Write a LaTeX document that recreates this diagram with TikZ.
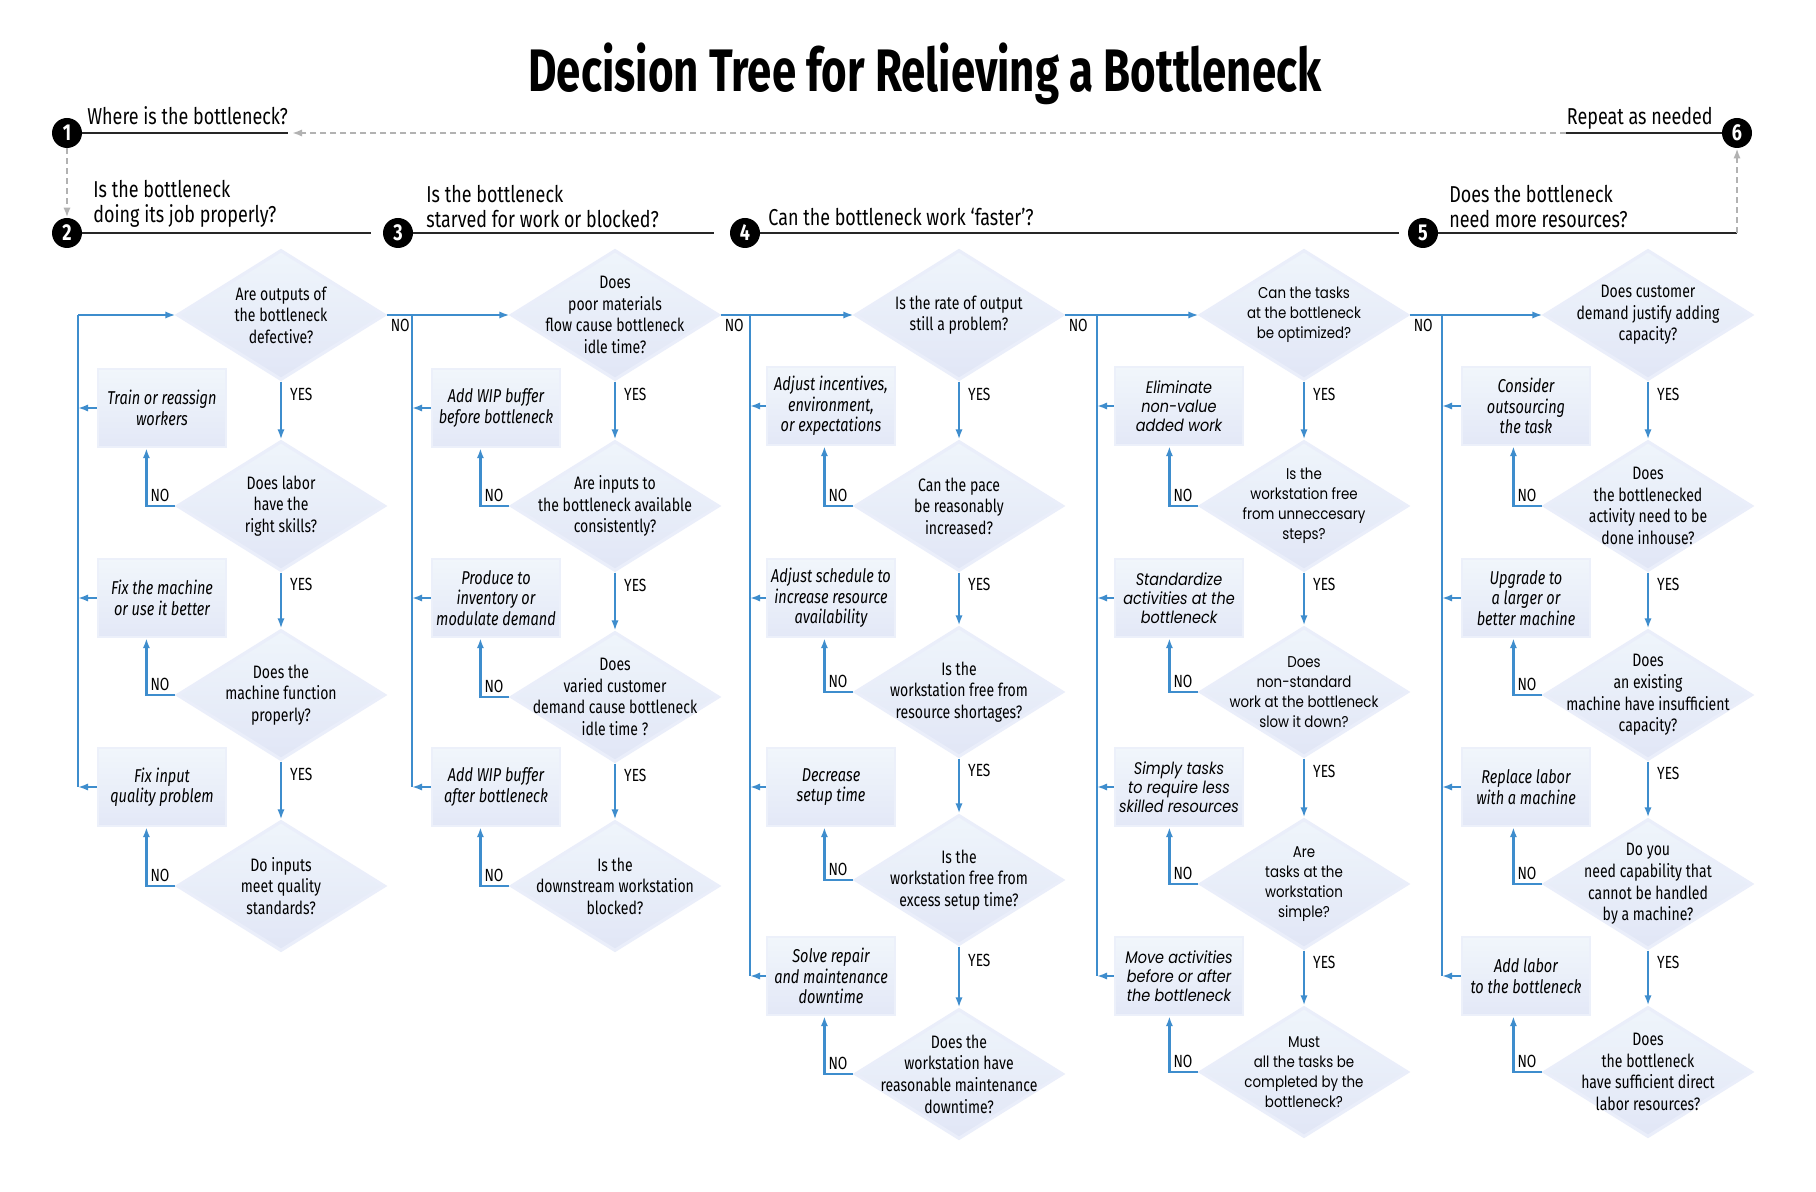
\documentclass[tikz,border=0pt]{standalone}
\usepackage{fontspec}
\setmainfont{Fira Sans}[FakeStretch=0.78]
\newfontfamily\titlefont{Fira Sans}[FakeStretch=0.73]
\newfontfamily\geofont{Poppins}[FakeStretch=0.86]
\usetikzlibrary{shapes.geometric,arrows.meta}

\definecolor{flowblue}{RGB}{62,141,205}
\definecolor{qtop}{RGB}{239,245,251}
\definecolor{qbot}{RGB}{225,230,246}
\definecolor{qedge}{RGB}{234,238,250}
\definecolor{atop}{RGB}{241,246,251}
\definecolor{abot}{RGB}{227,232,247}
\definecolor{aedge}{RGB}{236,240,250}
\definecolor{loopgray}{RGB}{178,178,178}

\begin{document}
\begin{tikzpicture}[x=0.5pt,y=-0.5pt]
  \tikzset{question/.style={diamond,minimum width=104pt,minimum height=65pt,inner sep=0pt,
      top color=qtop,bottom color=qbot,draw=qedge,line width=1.6pt}}
  \tikzset{qtext/.style={align=center,inner sep=0pt,font=\fontsize{9}{10.8}\selectfont}}
  \tikzset{action/.style={rectangle,minimum width=64pt,minimum height=39pt,inner sep=1pt,
      top color=atop,bottom color=abot,draw=aedge,line width=1.2pt,align=center,
      font=\itshape\fontsize{9.3}{10.2}\selectfont}}
  \tikzset{geoq/.style={font=\geofont\fontsize{7.8}{10}\selectfont}}
  \tikzset{geoa/.style={font=\geofont\itshape\fontsize{8.4}{9.6}\selectfont}}
  \tikzset{flow/.style={draw=flowblue,line width=1.2pt}}
  \tikzset{flowarrow/.style={flow,-{Latex[length=5pt,width=3.6pt]}}}
  \tikzset{yeslabel/.style={anchor=west,inner sep=0pt,xshift=4pt,font=\fontsize{8.8}{10}\selectfont}}
  \tikzset{nolabel/.style={inner sep=1.5pt,font=\fontsize{8.8}{10}\selectfont}}
  \tikzset{stepdot/.style={circle,fill=black,minimum size=15pt,inner sep=0pt,text=white,
      font=\bfseries\fontsize{11.5}{11.5}\selectfont}}
  \tikzset{headline/.style={draw=black!85,line width=1.4pt}}
  \tikzset{loopline/.style={draw=loopgray,line width=1pt,dash pattern=on 3pt off 2pt,
      -{Latex[length=5pt,width=3.6pt]}}}
  \tikzset{headtext/.style={inner sep=0pt,align=left,font=\fontsize{11.5}{12.5}\selectfont}}

  \useasboundingbox[fill=white] (0,0) rectangle (1816,1192);

  % title and steps
  \node[font=\titlefont\bfseries\fontsize{30}{36}\selectfont] (title) at (925,74) {Decision Tree for Relieving a Bottleneck};

  \node[stepdot] (s1) at (67,133) {1};
  \node[stepdot] (s2) at (67,233) {2};
  \node[stepdot] (s3) at (398,233) {3};
  \node[stepdot] (s4) at (745,233) {4};
  \node[stepdot] (s5) at (1423,233) {5};
  \node[stepdot] (s6) at (1737,133) {6};

  \coordinate (h1end) at (288,133);
  \coordinate (h2end) at (371,233);
  \coordinate (h3end) at (714,233);
  \coordinate (h4end) at (1399,233);
  \coordinate (h5end) at (1737,233);
  \coordinate (h6end) at (1566,133);

  \draw[headline] (s1) -- (h1end);
  \draw[headline] (s2) -- (h2end);
  \draw[headline] (s3) -- (h3end);
  \draw[headline] (s4) -- (h4end);
  \draw[headline] (s5) -- (h5end);
  \draw[headline] (s6) -- (h6end);

  \draw[loopline] (h6end) -- ([xshift=2pt]h1end);
  \draw[loopline] (s1) -- (s2);
  \draw[loopline] (h5end) -- (s6);

  \node[headtext,anchor=base west] (ht1) at (87,125) {Where is the bottleneck?};
  \node[headtext,anchor=south west] (ht2) at (93,228) {Is the bottleneck\\doing its job properly?};
  \node[headtext,anchor=south west] (ht3) at (426,228) {Is the bottleneck\\starved for work or blocked?};
  \node[headtext,anchor=base west] (ht4) at (768,226) {Can the bottleneck work ‘faster’?};
  \node[headtext,anchor=south west] (ht5) at (1449,228) {Does the bottleneck\\need more resources?};
  \node[headtext,anchor=base east] (ht6) at (1713,125) {Repeat as needed};

  % column 1
  \node[question] (q11) at (281,315) {};
  \node[question] (q12) at (281,506) {};
  \node[question] (q13) at (281,695) {};
  \node[question] (q14) at (281,886) {};
  \node[qtext] at (q11) {Are outputs of\\the bottleneck\\defective?};
  \node[qtext] at (q12) {Does labor\\have the\\right skills?};
  \node[qtext] at (q13) {Does the\\machine function\\properly?};
  \node[qtext] at (q14) {Do inputs\\meet quality\\standards?};
  \node[action] (a11) at (162,408) {Train or reassign\\workers};
  \node[action] (a12) at (162,598) {Fix the machine\\or use it better};
  \node[action] (a13) at (162,787) {Fix input\\quality problem};

  % column 2
  \node[question] (q21) at (615,315) {};
  \node[question] (q22) at (615,506) {};
  \node[question] (q23) at (615,697) {};
  \node[question] (q24) at (615,886) {};
  \node[qtext] at (q21) {Does\\poor materials\\flow cause bottleneck\\idle time?};
  \node[qtext] at (q22) {Are inputs to\\the bottleneck available\\consistently?};
  \node[qtext] at (q23) {Does\\varied customer\\demand cause bottleneck\\idle time ?};
  \node[qtext] at (q24) {Is the\\downstream workstation\\blocked?};
  \node[action] (a21) at (496,408) {Add WIP buffer\\before bottleneck};
  \node[action] (a22) at (496,598) {Produce to\\inventory or\\modulate demand};
  \node[action] (a23) at (496,787) {Add WIP buffer\\after bottleneck};

  % column 3
  \node[question] (q31) at (959,315) {};
  \node[question] (q32) at (959,506) {};
  \node[question] (q33) at (959,692) {};
  \node[question] (q34) at (959,880) {};
  \node[question] (q35) at (959,1074) {};
  \node[qtext] at (q31) {Is the rate of output\\still a problem?};
  \node[qtext] at (q32) {Can the pace\\be reasonably\\increased?};
  \node[qtext] at (q33) {Is the\\workstation free from\\resource shortages?};
  \node[qtext] at (q34) {Is the\\workstation free from\\excess setup time?};
  \node[qtext] at (q35) {Does the\\workstation have\\reasonable maintenance\\downtime?};
  \node[action] (a31) at (831,406) {Adjust incentives,\\environment,\\or expectations};
  \node[action] (a32) at (831,598) {Adjust schedule to\\increase resource\\availability};
  \node[action] (a33) at (831,787) {Decrease\\setup time};
  \node[action] (a34) at (831,976) {Solve repair\\and maintenance\\downtime};

  % column 4
  \node[question] (q41) at (1304,315) {};
  \node[question] (q42) at (1304,506) {};
  \node[question] (q43) at (1304,692) {};
  \node[question] (q44) at (1304,884) {};
  \node[question] (q45) at (1304,1072) {};
  \node[qtext,geoq] at (q41) {Can the tasks\\at the bottleneck\\be optimized?};
  \node[qtext,geoq] at (q42) {Is the\\workstation free\\from unneccesary\\steps?};
  \node[qtext,geoq] at (q43) {Does\\non-standard\\work at the bottleneck\\slow it down?};
  \node[qtext,geoq] at (q44) {Are\\tasks at the\\workstation\\simple?};
  \node[qtext,geoq] at (q45) {Must\\all the tasks be\\completed by the\\bottleneck?};
  \node[action,geoa] (a41) at (1179,406) {Eliminate\\non-value\\added work};
  \node[action,geoa] (a42) at (1179,598) {Standardize\\activities at the\\bottleneck};
  \node[action,geoa] (a43) at (1179,787) {Simply tasks\\to require less\\skilled resources};
  \node[action,geoa] (a44) at (1179,976) {Move activities\\before or after\\the bottleneck};

  % column 5
  \node[question] (q51) at (1648,315) {};
  \node[question] (q52) at (1648,506) {};
  \node[question] (q53) at (1648,695) {};
  \node[question] (q54) at (1648,884) {};
  \node[question] (q55) at (1648,1072) {};
  \node[qtext] at (q51) {Does customer\\demand justify adding\\capacity?};
  \node[qtext] at (q52) {Does\\the bottlenecked\\activity need to be\\done inhouse?};
  \node[qtext] at (q53) {Does\\an existing\\machine have insufficient\\capacity?};
  \node[qtext] at (q54) {Do you\\need capability that\\cannot be handled\\by a machine?};
  \node[qtext] at (q55) {Does\\the bottleneck\\have sufficient direct\\labor resources?};
  \node[action] (a51) at (1526,406) {Consider\\outsourcing\\the task};
  \node[action] (a52) at (1526,598) {Upgrade to\\a larger or\\better machine};
  \node[action] (a53) at (1526,787) {Replace labor\\with a machine};
  \node[action] (a54) at (1526,976) {Add labor\\to the bottleneck};

  % trunks
  \coordinate (t1) at (78,315);
  \coordinate (t2) at (412,315);
  \coordinate (t3) at (750,315);
  \coordinate (t4) at (1097,315);
  \coordinate (t5) at (1442,315);

  \draw[flow] (t1) -- (t1 |- a13.west);
  \draw[flow] (t2) -- (t2 |- a23.west);
  \draw[flow] (t3) -- (t3 |- a34.west);
  \draw[flow] (t4) -- (t4 |- a44.west);
  \draw[flow] (t5) -- (t5 |- a54.west);

  \draw[flowarrow] (t1) -- (q11.west);
  \draw[flowarrow] (q11.east) -- (q21.west) node[nolabel,pos=0,anchor=north west] {NO};
  \draw[flowarrow] (q21.east) -- (q31.west) node[nolabel,pos=0,anchor=north west] {NO};
  \draw[flowarrow] (q31.east) -- (q41.west) node[nolabel,pos=0,anchor=north west] {NO};
  \draw[flowarrow] (q41.east) -- (q51.west) node[nolabel,pos=0,anchor=north west] {NO};

  % yes arrows
  \draw[flowarrow] (q11.south) -- (q12.north) node[yeslabel,pos=0.22] {YES};
  \draw[flowarrow] (q12.south) -- (q13.north) node[yeslabel,pos=0.22] {YES};
  \draw[flowarrow] (q13.south) -- (q14.north) node[yeslabel,pos=0.22] {YES};
  \draw[flowarrow] (q21.south) -- (q22.north) node[yeslabel,pos=0.22] {YES};
  \draw[flowarrow] (q22.south) -- (q23.north) node[yeslabel,pos=0.22] {YES};
  \draw[flowarrow] (q23.south) -- (q24.north) node[yeslabel,pos=0.22] {YES};
  \draw[flowarrow] (q31.south) -- (q32.north) node[yeslabel,pos=0.22] {YES};
  \draw[flowarrow] (q32.south) -- (q33.north) node[yeslabel,pos=0.22] {YES};
  \draw[flowarrow] (q33.south) -- (q34.north) node[yeslabel,pos=0.22] {YES};
  \draw[flowarrow] (q34.south) -- (q35.north) node[yeslabel,pos=0.22] {YES};
  \draw[flowarrow] (q41.south) -- (q42.north) node[yeslabel,pos=0.22] {YES};
  \draw[flowarrow] (q42.south) -- (q43.north) node[yeslabel,pos=0.22] {YES};
  \draw[flowarrow] (q43.south) -- (q44.north) node[yeslabel,pos=0.22] {YES};
  \draw[flowarrow] (q44.south) -- (q45.north) node[yeslabel,pos=0.22] {YES};
  \draw[flowarrow] (q51.south) -- (q52.north) node[yeslabel,pos=0.22] {YES};
  \draw[flowarrow] (q52.south) -- (q53.north) node[yeslabel,pos=0.22] {YES};
  \draw[flowarrow] (q53.south) -- (q54.north) node[yeslabel,pos=0.22] {YES};
  \draw[flowarrow] (q54.south) -- (q55.north) node[yeslabel,pos=0.22] {YES};

  % no arrows back up to the actions
  \draw[flowarrow] (q12.west) -| ([xshift=-14.5pt]q12.west |- a11.south) node[nolabel,pos=0.5,anchor=south west] {NO};
  \draw[flowarrow] (q13.west) -| ([xshift=-14.5pt]q13.west |- a12.south) node[nolabel,pos=0.5,anchor=south west] {NO};
  \draw[flowarrow] (q14.west) -| ([xshift=-14.5pt]q14.west |- a13.south) node[nolabel,pos=0.5,anchor=south west] {NO};
  \draw[flowarrow] (q22.west) -| ([xshift=-14.5pt]q22.west |- a21.south) node[nolabel,pos=0.5,anchor=south west] {NO};
  \draw[flowarrow] (q23.west) -| ([xshift=-14.5pt]q23.west |- a22.south) node[nolabel,pos=0.5,anchor=south west] {NO};
  \draw[flowarrow] (q24.west) -| ([xshift=-14.5pt]q24.west |- a23.south) node[nolabel,pos=0.5,anchor=south west] {NO};
  \draw[flowarrow] (q32.west) -| ([xshift=-14.5pt]q32.west |- a31.south) node[nolabel,pos=0.5,anchor=south west] {NO};
  \draw[flowarrow] (q33.west) -| ([xshift=-14.5pt]q33.west |- a32.south) node[nolabel,pos=0.5,anchor=south west] {NO};
  \draw[flowarrow] (q34.west) -| ([xshift=-14.5pt]q34.west |- a33.south) node[nolabel,pos=0.5,anchor=south west] {NO};
  \draw[flowarrow] (q35.west) -| ([xshift=-14.5pt]q35.west |- a34.south) node[nolabel,pos=0.5,anchor=south west] {NO};
  \draw[flowarrow] (q42.west) -| ([xshift=-14.5pt]q42.west |- a41.south) node[nolabel,pos=0.5,anchor=south west] {NO};
  \draw[flowarrow] (q43.west) -| ([xshift=-14.5pt]q43.west |- a42.south) node[nolabel,pos=0.5,anchor=south west] {NO};
  \draw[flowarrow] (q44.west) -| ([xshift=-14.5pt]q44.west |- a43.south) node[nolabel,pos=0.5,anchor=south west] {NO};
  \draw[flowarrow] (q45.west) -| ([xshift=-14.5pt]q45.west |- a44.south) node[nolabel,pos=0.5,anchor=south west] {NO};
  \draw[flowarrow] (q52.west) -| ([xshift=-14.5pt]q52.west |- a51.south) node[nolabel,pos=0.5,anchor=south west] {NO};
  \draw[flowarrow] (q53.west) -| ([xshift=-14.5pt]q53.west |- a52.south) node[nolabel,pos=0.5,anchor=south west] {NO};
  \draw[flowarrow] (q54.west) -| ([xshift=-14.5pt]q54.west |- a53.south) node[nolabel,pos=0.5,anchor=south west] {NO};
  \draw[flowarrow] (q55.west) -| ([xshift=-14.5pt]q55.west |- a54.south) node[nolabel,pos=0.5,anchor=south west] {NO};

  % actions back to the trunks
  \draw[flowarrow] (a11.west) -- (a11.west -| t1);
  \draw[flowarrow] (a12.west) -- (a12.west -| t1);
  \draw[flowarrow] (a13.west) -- (a13.west -| t1);
  \draw[flowarrow] (a21.west) -- (a21.west -| t2);
  \draw[flowarrow] (a22.west) -- (a22.west -| t2);
  \draw[flowarrow] (a23.west) -- (a23.west -| t2);
  \draw[flowarrow] (a31.west) -- (a31.west -| t3);
  \draw[flowarrow] (a32.west) -- (a32.west -| t3);
  \draw[flowarrow] (a33.west) -- (a33.west -| t3);
  \draw[flowarrow] (a34.west) -- (a34.west -| t3);
  \draw[flowarrow] (a41.west) -- (a41.west -| t4);
  \draw[flowarrow] (a42.west) -- (a42.west -| t4);
  \draw[flowarrow] (a43.west) -- (a43.west -| t4);
  \draw[flowarrow] (a44.west) -- (a44.west -| t4);
  \draw[flowarrow] (a51.west) -- (a51.west -| t5);
  \draw[flowarrow] (a52.west) -- (a52.west -| t5);
  \draw[flowarrow] (a53.west) -- (a53.west -| t5);
  \draw[flowarrow] (a54.west) -- (a54.west -| t5);
\end{tikzpicture}
\end{document}
